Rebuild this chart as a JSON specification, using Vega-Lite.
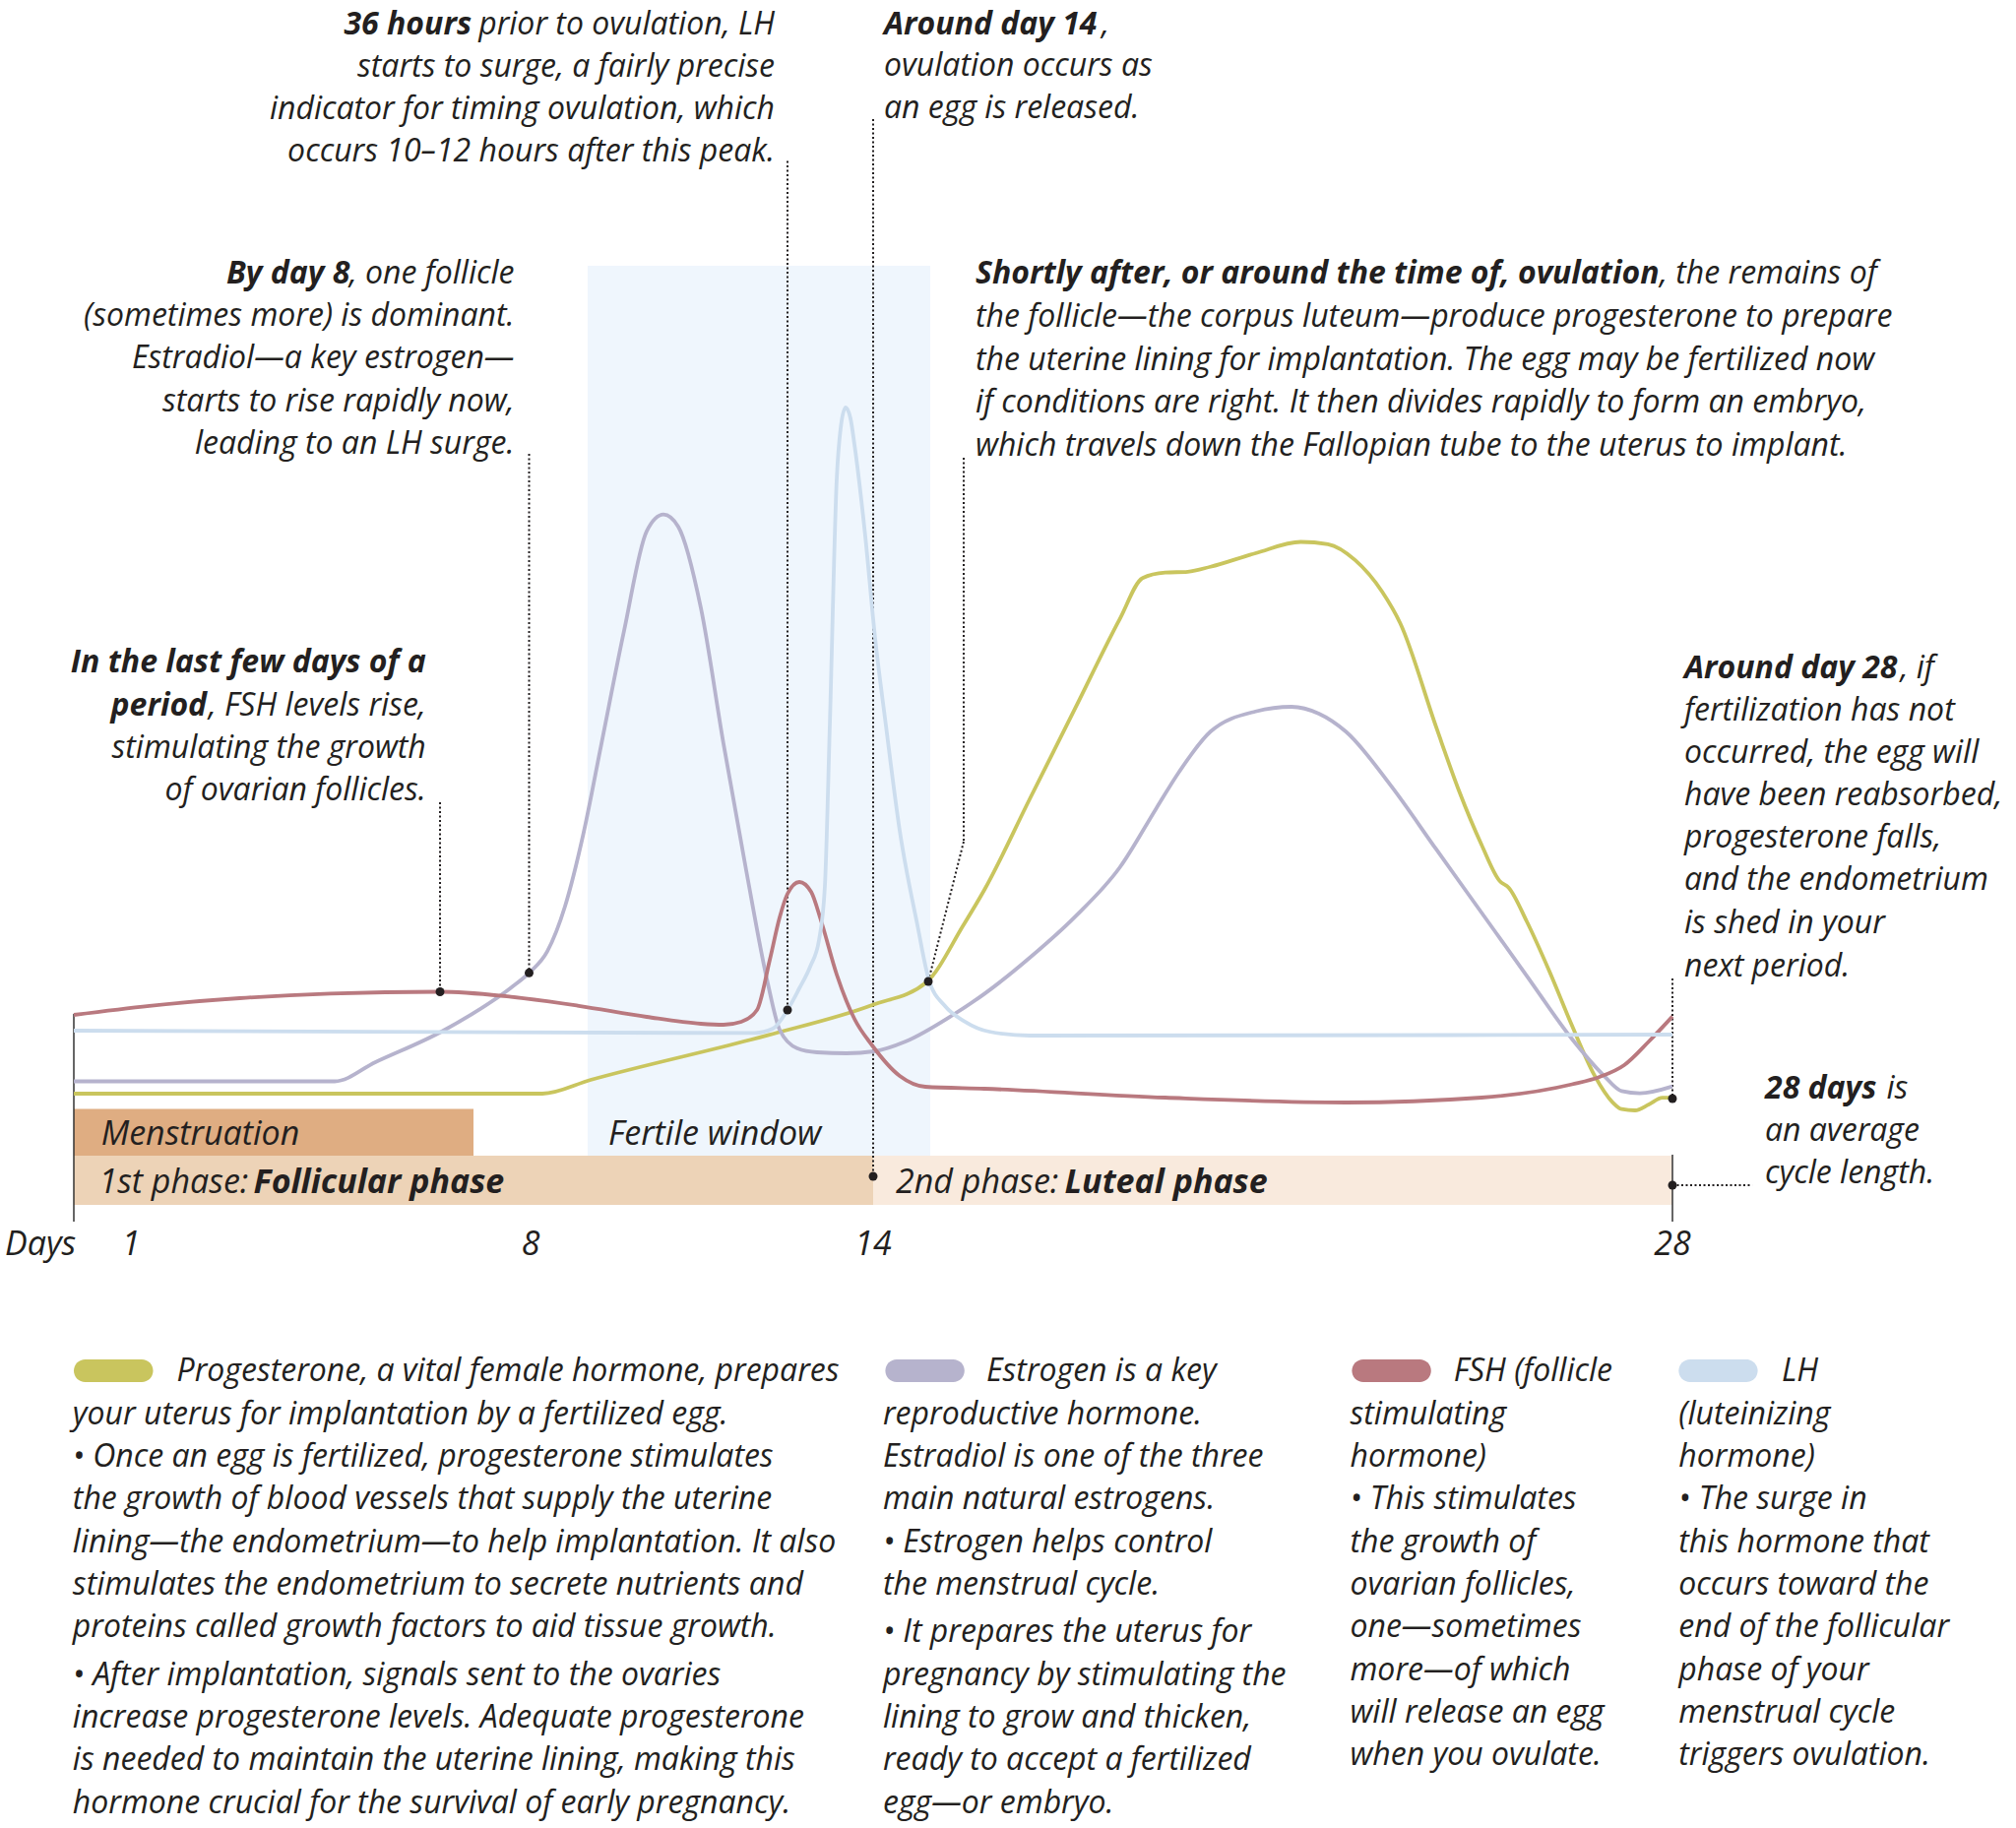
{
  "$schema": "https://vega.github.io/schema/vega-lite/v6.json",
  "width": 2048,
  "height": 1857,
  "autosize": {"type": "none"},
  "padding": 0,
  "background": "white",
  "config": {"view": {"stroke": null}},
  "encoding": {
    "x": {"field": "x", "type": "quantitative", "scale": {"domain": [-1.2931, 34.0172], "nice": false, "zero": false}, "axis": null},
    "y": {"field": "y", "type": "quantitative", "scale": {"domain": [-79.125, 153], "nice": false, "zero": false}, "axis": null}
  },
  "datasets": {
    "fertile": [{"x": 9, "x2": 15, "y": 6.25, "y2": 119.25}],
    "menses": [{"x": 0, "x2": 7, "y": 6.25, "y2": 12.19}],
    "follicular": [{"x": 0, "x2": 14, "y": 0, "y2": 6.25}],
    "luteal": [{"x": 14, "x2": 28, "y": 0, "y2": 6.25}],
    "axislines": [{"x": 0, "y": 24.25, "y2": -2.125}, {"x": 28, "y": 6.375, "y2": -2.125}],
    "ticks": [{"x": 1}, {"x": 2}, {"x": 3}, {"x": 4}, {"x": 5}, {"x": 6}, {"x": 7}, {"x": 8}, {"x": 9}, {"x": 10}, {"x": 11}, {"x": 12}, {"x": 13}, {"x": 14}, {"x": 15}, {"x": 16}, {"x": 17}, {"x": 18}, {"x": 19}, {"x": 20}, {"x": 21}, {"x": 22}, {"x": 23}, {"x": 24}, {"x": 25}, {"x": 26}, {"x": 27}],
    "leaders": [
      {"x": 6.414, "x2": 6.414, "y": 51.125, "y2": 27.06},
      {"x": 7.974, "x2": 7.974, "y": 95.375, "y2": 29.46},
      {"x": 12.5, "x2": 12.5, "y": 132.56, "y2": 24.75},
      {"x": 14, "x2": 14, "y": 137.875, "y2": 3.625},
      {"x": 15.586, "x2": 15.586, "y": 94.875, "y2": 46.125},
      {"x": 15.586, "x2": 14.966, "y": 46.125, "y2": 28.375},
      {"x": 28, "x2": 28, "y": 28.75, "y2": 13.5},
      {"x": 28, "x2": 29.397, "y": 2.5, "y2": 2.5}
    ],
    "dots": [
      {"x": 6.414, "y": 27.06}, {"x": 7.974, "y": 29.46}, {"x": 12.5, "y": 24.75},
      {"x": 14.966, "y": 28.375}, {"x": 14, "y": 3.625}, {"x": 28, "y": 13.5}, {"x": 28, "y": 2.5}
    ],
    "curves": [
      {"hormone": "Progesterone", "x": 0, "y": 14.125}, {"hormone": "Progesterone", "x": 8.207, "y": 14.125}, {"hormone": "Progesterone", "x": 9.052, "y": 15.875}, {"hormone": "Progesterone", "x": 12.155, "y": 21.55}, {"hormone": "Progesterone", "x": 13.983, "y": 25.375}, {"hormone": "Progesterone", "x": 14.931, "y": 28.25}, {"hormone": "Progesterone", "x": 15.579, "y": 35.5}, {"hormone": "Progesterone", "x": 15.948, "y": 40.0}, {"hormone": "Progesterone", "x": 16.74, "y": 51.5}, {"hormone": "Progesterone", "x": 17.531, "y": 62.95}, {"hormone": "Progesterone", "x": 18.322, "y": 74.425}, {"hormone": "Progesterone", "x": 18.719, "y": 79.6}, {"hormone": "Progesterone", "x": 19.116, "y": 80.29}, {"hormone": "Progesterone", "x": 19.51, "y": 80.4}, {"hormone": "Progesterone", "x": 19.907, "y": 81.03}, {"hormone": "Progesterone", "x": 20.698, "y": 82.75}, {"hormone": "Progesterone", "x": 21.49, "y": 84.19}, {"hormone": "Progesterone", "x": 21.966, "y": 83.9}, {"hormone": "Progesterone", "x": 22.44, "y": 81.89}, {"hormone": "Progesterone", "x": 22.914, "y": 77.875}, {"hormone": "Progesterone", "x": 23.231, "y": 73.875}, {"hormone": "Progesterone", "x": 23.862, "y": 60.66}, {"hormone": "Progesterone", "x": 24.259, "y": 52.625}, {"hormone": "Progesterone", "x": 24.655, "y": 45.75}, {"hormone": "Progesterone", "x": 24.972, "y": 41.14}, {"hormone": "Progesterone", "x": 25.131, "y": 40.29}, {"hormone": "Progesterone", "x": 25.448, "y": 36.0}, {"hormone": "Progesterone", "x": 25.845, "y": 29.66}, {"hormone": "Progesterone", "x": 26.24, "y": 22.775}, {"hormone": "Progesterone", "x": 26.634, "y": 16.46}, {"hormone": "Progesterone", "x": 26.952, "y": 13.025}, {"hormone": "Progesterone", "x": 27.11, "y": 12.16}, {"hormone": "Progesterone", "x": 27.345, "y": 12.0}, {"hormone": "Progesterone", "x": 27.586, "y": 12.75}, {"hormone": "Progesterone", "x": 27.822, "y": 13.6}, {"hormone": "Progesterone", "x": 28, "y": 13.6},
      {"hormone": "Estrogen", "x": 0, "y": 15.69}, {"hormone": "Estrogen", "x": 4.569, "y": 15.69}, {"hormone": "Estrogen", "x": 5.283, "y": 18.125}, {"hormone": "Estrogen", "x": 6.471, "y": 22.125}, {"hormone": "Estrogen", "x": 7.655, "y": 27.575}, {"hormone": "Estrogen", "x": 7.974, "y": 29.46}, {"hormone": "Estrogen", "x": 8.291, "y": 32.16}, {"hormone": "Estrogen", "x": 8.603, "y": 37.9}, {"hormone": "Estrogen", "x": 8.924, "y": 47.09}, {"hormone": "Estrogen", "x": 9.241, "y": 58.56}, {"hormone": "Estrogen", "x": 9.638, "y": 72.91}, {"hormone": "Estrogen", "x": 10.034, "y": 85.54}, {"hormone": "Estrogen", "x": 10.328, "y": 87.66}, {"hormone": "Estrogen", "x": 10.586, "y": 86.125}, {"hormone": "Estrogen", "x": 10.983, "y": 75.79}, {"hormone": "Estrogen", "x": 11.379, "y": 58.56}, {"hormone": "Estrogen", "x": 11.776, "y": 42.5}, {"hormone": "Estrogen", "x": 12.155, "y": 28.125}, {"hormone": "Estrogen", "x": 12.362, "y": 22.25}, {"hormone": "Estrogen", "x": 12.672, "y": 19.875}, {"hormone": "Estrogen", "x": 13.017, "y": 19.375}, {"hormone": "Estrogen", "x": 13.534, "y": 19.25}, {"hormone": "Estrogen", "x": 14.017, "y": 19.5}, {"hormone": "Estrogen", "x": 14.569, "y": 20.75}, {"hormone": "Estrogen", "x": 15.371, "y": 24.0}, {"hormone": "Estrogen", "x": 15.948, "y": 26.8}, {"hormone": "Estrogen", "x": 16.741, "y": 31.375}, {"hormone": "Estrogen", "x": 17.531, "y": 36.55}, {"hormone": "Estrogen", "x": 18.322, "y": 42.875}, {"hormone": "Estrogen", "x": 18.957, "y": 50.325}, {"hormone": "Estrogen", "x": 19.352, "y": 54.91}, {"hormone": "Estrogen", "x": 19.907, "y": 60.09}, {"hormone": "Estrogen", "x": 20.698, "y": 62.66}, {"hormone": "Estrogen", "x": 21.328, "y": 63.25}, {"hormone": "Estrogen", "x": 21.807, "y": 62.375}, {"hormone": "Estrogen", "x": 22.281, "y": 60.09}, {"hormone": "Estrogen", "x": 23.072, "y": 53.2}, {"hormone": "Estrogen", "x": 23.862, "y": 45.16}, {"hormone": "Estrogen", "x": 24.655, "y": 37.125}, {"hormone": "Estrogen", "x": 25.448, "y": 29.09}, {"hormone": "Estrogen", "x": 26.241, "y": 21.06}, {"hormone": "Estrogen", "x": 26.793, "y": 16.46}, {"hormone": "Estrogen", "x": 27.11, "y": 14.45}, {"hormone": "Estrogen", "x": 27.428, "y": 14.175}, {"hormone": "Estrogen", "x": 28, "y": 15.04},
      {"hormone": "FSH", "x": 0, "y": 24.125}, {"hormone": "FSH", "x": 1.324, "y": 25.275}, {"hormone": "FSH", "x": 2.907, "y": 26.25}, {"hormone": "FSH", "x": 4.491, "y": 26.825}, {"hormone": "FSH", "x": 6.414, "y": 27.06}, {"hormone": "FSH", "x": 7.655, "y": 26.425}, {"hormone": "FSH", "x": 8.845, "y": 25.275}, {"hormone": "FSH", "x": 10.034, "y": 23.875}, {"hormone": "FSH", "x": 10.983, "y": 23.0}, {"hormone": "FSH", "x": 11.379, "y": 22.875}, {"hormone": "FSH", "x": 11.69, "y": 23.25}, {"hormone": "FSH", "x": 11.966, "y": 24.75}, {"hormone": "FSH", "x": 12.19, "y": 31.125}, {"hormone": "FSH", "x": 12.362, "y": 36.5}, {"hormone": "FSH", "x": 12.5, "y": 39.5}, {"hormone": "FSH", "x": 12.707, "y": 41.0}, {"hormone": "FSH", "x": 12.914, "y": 39.75}, {"hormone": "FSH", "x": 13.086, "y": 36.125}, {"hormone": "FSH", "x": 13.362, "y": 29.25}, {"hormone": "FSH", "x": 13.672, "y": 23.625}, {"hormone": "FSH", "x": 13.983, "y": 20.25}, {"hormone": "FSH", "x": 14.466, "y": 16.375}, {"hormone": "FSH", "x": 14.914, "y": 15.0}, {"hormone": "FSH", "x": 15.948, "y": 14.75}, {"hormone": "FSH", "x": 19.116, "y": 13.625}, {"hormone": "FSH", "x": 22.276, "y": 13.0}, {"hormone": "FSH", "x": 24.655, "y": 13.625}, {"hormone": "FSH", "x": 26.241, "y": 15.31}, {"hormone": "FSH", "x": 26.724, "y": 16.25}, {"hormone": "FSH", "x": 27.155, "y": 17.75}, {"hormone": "FSH", "x": 27.586, "y": 20.75}, {"hormone": "FSH", "x": 28, "y": 23.925},
      {"hormone": "LH", "x": 0, "y": 22.125}, {"hormone": "LH", "x": 11.931, "y": 21.84}, {"hormone": "LH", "x": 12.241, "y": 22.375}, {"hormone": "LH", "x": 12.5, "y": 24.75}, {"hormone": "LH", "x": 12.707, "y": 27.5}, {"hormone": "LH", "x": 12.897, "y": 30.25}, {"hormone": "LH", "x": 13.052, "y": 33.625}, {"hormone": "LH", "x": 13.155, "y": 40.5}, {"hormone": "LH", "x": 13.241, "y": 60.875}, {"hormone": "LH", "x": 13.362, "y": 92.125}, {"hormone": "LH", "x": 13.431, "y": 98.625}, {"hormone": "LH", "x": 13.517, "y": 101.25}, {"hormone": "LH", "x": 13.603, "y": 99.875}, {"hormone": "LH", "x": 13.672, "y": 96.6}, {"hormone": "LH", "x": 13.855, "y": 85.41}, {"hormone": "LH", "x": 14.034, "y": 72.0}, {"hormone": "LH", "x": 14.224, "y": 60.875}, {"hormone": "LH", "x": 14.466, "y": 47.5}, {"hormone": "LH", "x": 14.776, "y": 35.5}, {"hormone": "LH", "x": 14.979, "y": 28.5}, {"hormone": "LH", "x": 15.259, "y": 25.25}, {"hormone": "LH", "x": 15.6, "y": 23.31}, {"hormone": "LH", "x": 16.034, "y": 22.0}, {"hormone": "LH", "x": 16.741, "y": 21.5}, {"hormone": "LH", "x": 28, "y": 21.625}
    ],
    "swatches": [
      {"hormone": "Progesterone", "x": 0, "x2": 1.388, "y": -19.625, "y2": -22.5},
      {"hormone": "Estrogen", "x": 14.214, "x2": 15.6, "y": -19.625, "y2": -22.5},
      {"hormone": "FSH", "x": 22.386, "x2": 23.772, "y": -19.625, "y2": -22.5},
      {"hormone": "LH", "x": 28.109, "x2": 29.493, "y": -19.625, "y2": -22.5}
    ],
    "annot_rn": [
      {"x": 12.276, "y": 148.625, "text": "prior to ovulation, LH"},
      {"x": 12.276, "y": 143.275, "text": "starts to surge, a fairly precise"},
      {"x": 12.276, "y": 137.9125, "text": "indicator for timing ovulation, which"},
      {"x": 12.276, "y": 132.5625, "text": "occurs 10–12 hours after this peak."},
      {"x": 7.716, "y": 117.0, "text": ", one follicle"},
      {"x": 7.716, "y": 111.625, "text": "(sometimes more) is dominant."},
      {"x": 7.716, "y": 106.19, "text": "Estradiol—a key estrogen—"},
      {"x": 7.716, "y": 100.75, "text": "starts to rise rapidly now,"},
      {"x": 7.716, "y": 95.375, "text": "leading to an LH surge."},
      {"x": 6.169, "y": 62.175, "text": ", FSH levels rise,"},
      {"x": 6.169, "y": 56.75, "text": "stimulating the growth"},
      {"x": 6.169, "y": 51.375, "text": "of ovarian follicles."}
    ],
    "annot_rb": [
      {"x": 6.966, "y": 148.625, "text": "36 hours"},
      {"x": 4.833, "y": 117.0, "text": "By day 8"},
      {"x": 6.169, "y": 67.575, "text": "In the last few days of a"},
      {"x": 2.33, "y": 62.175, "text": "period"}
    ],
    "annot_ln": [
      {"x": 18.0, "y": 148.625, "text": ","},
      {"x": 14.19, "y": 143.375, "text": "ovulation occurs as"},
      {"x": 14.19, "y": 138.0, "text": "an egg is released."},
      {"x": 27.776, "y": 116.94, "text": ", the remains of"},
      {"x": 15.793, "y": 111.5, "text": "the follicle—the corpus luteum—produce progesterone to prepare"},
      {"x": 15.793, "y": 106.06, "text": "the uterine lining for implantation. The egg may be fertilized now"},
      {"x": 15.793, "y": 100.59, "text": "if conditions are right. It then divides rapidly to form an embryo,"},
      {"x": 15.793, "y": 95.125, "text": "which travels down the Fallopian tube to the uterus to implant."},
      {"x": 31.99, "y": 66.925, "text": ", if"},
      {"x": 28.207, "y": 61.5, "text": "fertilization has not"},
      {"x": 28.207, "y": 56.125, "text": "occurred, the egg will"},
      {"x": 28.207, "y": 50.69, "text": "have been reabsorbed,"},
      {"x": 28.207, "y": 45.375, "text": "progesterone falls,"},
      {"x": 28.207, "y": 40.0, "text": "and the endometrium"},
      {"x": 28.207, "y": 34.5, "text": "is shed in your"},
      {"x": 28.207, "y": 29.05, "text": "next period."},
      {"x": 31.75, "y": 13.44, "text": "is"},
      {"x": 29.621, "y": 8.125, "text": "an average"},
      {"x": 29.621, "y": 2.75, "text": "cycle length."}
    ],
    "annot_lb": [
      {"x": 14.19, "y": 148.625, "text": "Around day 14"},
      {"x": 15.793, "y": 116.94, "text": "Shortly after, or around the time of, ovulation"},
      {"x": 28.207, "y": 66.925, "text": "Around day 28"},
      {"x": 29.621, "y": 13.44, "text": "28 days"}
    ],
    "bar_n": [
      {"x": 0.478, "y": 7.625, "text": "Menstruation"},
      {"x": 9.362, "y": 7.625, "text": "Fertile window"},
      {"x": 0.438, "y": 1.5625, "text": "1st phase:"},
      {"x": 14.397, "y": 1.5625, "text": "2nd phase:"}
    ],
    "bar_b": [
      {"x": 3.148, "y": 1.5625, "text": "Follicular phase"},
      {"x": 17.353, "y": 1.5625, "text": "Luteal phase"}
    ],
    "ticklabels": [
      {"x": 1, "y": -6.375, "text": "1"},
      {"x": 8, "y": -6.375, "text": "8"},
      {"x": 14, "y": -6.375, "text": "14"},
      {"x": 28, "y": -6.375, "text": "28"}
    ],
    "dayslabel": [{"x": -1.207, "y": -6.375, "text": "Days"}],
    "legend_text": [
      {"x": 1.803, "y": -22.41, "text": "Progesterone, a vital female hormone, prepares"},
      {"x": -0.02, "y": -27.84, "text": "your uterus for implantation by a fertilized egg."},
      {"x": -0.02, "y": -33.25, "text": "• Once an egg is fertilized, progesterone stimulates"},
      {"x": -0.02, "y": -38.66, "text": "the growth of blood vessels that supply the uterine"},
      {"x": -0.02, "y": -44.09, "text": "lining—the endometrium—to help implantation. It also"},
      {"x": -0.02, "y": -49.5, "text": "stimulates the endometrium to secrete nutrients and"},
      {"x": -0.02, "y": -54.91, "text": "proteins called growth factors to aid tissue growth."},
      {"x": -0.02, "y": -60.96, "text": "• After implantation, signals sent to the ovaries"},
      {"x": -0.02, "y": -66.375, "text": "increase progesterone levels. Adequate progesterone"},
      {"x": -0.02, "y": -71.79, "text": "is needed to maintain the uterine lining, making this"},
      {"x": -0.02, "y": -77.21, "text": "hormone crucial for the survival of early pregnancy."},
      {"x": 15.983, "y": -22.41, "text": "Estrogen is a key"},
      {"x": 14.172, "y": -27.84, "text": "reproductive hormone."},
      {"x": 14.172, "y": -33.25, "text": "Estradiol is one of the three"},
      {"x": 14.172, "y": -38.66, "text": "main natural estrogens."},
      {"x": 14.172, "y": -44.09, "text": "• Estrogen helps control"},
      {"x": 14.172, "y": -49.5, "text": "the menstrual cycle."},
      {"x": 14.172, "y": -55.55, "text": "• It prepares the uterus for"},
      {"x": 14.172, "y": -60.96, "text": "pregnancy by stimulating the"},
      {"x": 14.172, "y": -66.375, "text": "lining to grow and thicken,"},
      {"x": 14.172, "y": -71.79, "text": "ready to accept a fertilized"},
      {"x": 14.172, "y": -77.21, "text": "egg—or embryo."},
      {"x": 24.166, "y": -22.41, "text": "FSH (follicle"},
      {"x": 22.353, "y": -27.84, "text": "stimulating"},
      {"x": 22.353, "y": -33.25, "text": "hormone)"},
      {"x": 22.353, "y": -38.66, "text": "• This stimulates"},
      {"x": 22.353, "y": -44.09, "text": "the growth of"},
      {"x": 22.353, "y": -49.5, "text": "ovarian follicles,"},
      {"x": 22.353, "y": -54.91, "text": "one—sometimes"},
      {"x": 22.353, "y": -60.34, "text": "more—of which"},
      {"x": 22.353, "y": -65.75, "text": "will release an egg"},
      {"x": 22.353, "y": -71.16, "text": "when you ovulate."},
      {"x": 29.914, "y": -22.41, "text": "LH"},
      {"x": 28.109, "y": -27.84, "text": "(luteinizing"},
      {"x": 28.109, "y": -33.25, "text": "hormone)"},
      {"x": 28.109, "y": -38.66, "text": "• The surge in"},
      {"x": 28.109, "y": -44.09, "text": "this hormone that"},
      {"x": 28.109, "y": -49.5, "text": "occurs toward the"},
      {"x": 28.109, "y": -54.91, "text": "end of the follicular"},
      {"x": 28.109, "y": -60.34, "text": "phase of your"},
      {"x": 28.109, "y": -65.75, "text": "menstrual cycle"},
      {"x": 28.109, "y": -71.16, "text": "triggers ovulation."}
    ]
  },
  "layer": [
    {"data": {"name": "fertile"}, "mark": {"type": "rect", "color": "#EFF6FD"}, "encoding": {"x2": {"field": "x2"}, "y2": {"field": "y2"}}},
    {"data": {"name": "menses"}, "mark": {"type": "rect", "color": "#DFAD82"}, "encoding": {"x2": {"field": "x2"}, "y2": {"field": "y2"}}},
    {"data": {"name": "follicular"}, "mark": {"type": "rect", "color": "#EDD3B7"}, "encoding": {"x2": {"field": "x2"}, "y2": {"field": "y2"}}},
    {"data": {"name": "luteal"}, "mark": {"type": "rect", "color": "#F9EADD"}, "encoding": {"x2": {"field": "x2"}, "y2": {"field": "y2"}}},
    {"data": {"name": "axislines"}, "mark": {"type": "rule", "color": "#333333", "strokeWidth": 1.5}, "encoding": {"y2": {"field": "y2"}}},
    {"data": {"name": "ticks"}, "mark": {"type": "rule", "color": "#333333", "strokeWidth": 1.5}, "encoding": {"y": {"datum": 0, "type": "quantitative"}, "y2": {"datum": -2.125}}},
    {"data": {"name": "leaders"}, "mark": {"type": "rule", "color": "#231F20", "strokeWidth": 2, "strokeDash": [2, 2.5]}, "encoding": {"x2": {"field": "x2"}, "y2": {"field": "y2"}}},
    {"data": {"name": "curves"}, "transform": [{"filter": "datum.hormone == 'Progesterone'"}], "mark": {"type": "line", "interpolate": "monotone", "strokeWidth": 3.8}, "encoding": {"color": {"field": "hormone", "type": "nominal", "scale": {"domain": ["Progesterone", "Estrogen", "FSH", "LH"], "range": ["#C9C55E", "#B6B3CD", "#B9797F", "#CCDDEE"]}, "legend": null}}},
    {"data": {"name": "curves"}, "transform": [{"filter": "datum.hormone == 'Estrogen'"}], "mark": {"type": "line", "interpolate": "monotone", "strokeWidth": 3.8}, "encoding": {"color": {"field": "hormone", "type": "nominal", "legend": null}}},
    {"data": {"name": "curves"}, "transform": [{"filter": "datum.hormone == 'FSH'"}], "mark": {"type": "line", "interpolate": "monotone", "strokeWidth": 3.8}, "encoding": {"color": {"field": "hormone", "type": "nominal", "legend": null}}},
    {"data": {"name": "curves"}, "transform": [{"filter": "datum.hormone == 'LH'"}], "mark": {"type": "line", "interpolate": "monotone", "strokeWidth": 3.8}, "encoding": {"color": {"field": "hormone", "type": "nominal", "legend": null}}},
    {"data": {"name": "dots"}, "mark": {"type": "circle", "color": "#231F20", "opacity": 1, "size": 80}},
    {"data": {"name": "swatches"}, "mark": {"type": "rect", "cornerRadius": 11.5}, "encoding": {"x2": {"field": "x2"}, "y2": {"field": "y2"}, "color": {"field": "hormone", "type": "nominal", "legend": null}}},
    {"data": {"name": "annot_rn"}, "mark": {"type": "text", "align": "right", "baseline": "alphabetic", "font": "Open Sans", "fontStyle": "italic", "fontSize": 32, "color": "#231F20"}, "encoding": {"text": {"field": "text"}}},
    {"data": {"name": "annot_rb"}, "mark": {"type": "text", "align": "right", "baseline": "alphabetic", "font": "Open Sans", "fontStyle": "italic", "fontWeight": "bold", "fontSize": 32, "color": "#231F20"}, "encoding": {"text": {"field": "text"}}},
    {"data": {"name": "annot_ln"}, "mark": {"type": "text", "align": "left", "baseline": "alphabetic", "font": "Open Sans", "fontStyle": "italic", "fontSize": 32, "color": "#231F20"}, "encoding": {"text": {"field": "text"}}},
    {"data": {"name": "annot_lb"}, "mark": {"type": "text", "align": "left", "baseline": "alphabetic", "font": "Open Sans", "fontStyle": "italic", "fontWeight": "bold", "fontSize": 32, "color": "#231F20"}, "encoding": {"text": {"field": "text"}}},
    {"data": {"name": "legend_text"}, "mark": {"type": "text", "align": "left", "baseline": "alphabetic", "font": "Open Sans", "fontStyle": "italic", "fontSize": 32, "color": "#231F20"}, "encoding": {"text": {"field": "text"}}},
    {"data": {"name": "bar_n"}, "mark": {"type": "text", "align": "left", "baseline": "alphabetic", "font": "Open Sans", "fontStyle": "italic", "fontSize": 34, "color": "#231F20"}, "encoding": {"text": {"field": "text"}}},
    {"data": {"name": "bar_b"}, "mark": {"type": "text", "align": "left", "baseline": "alphabetic", "font": "Open Sans", "fontStyle": "italic", "fontWeight": "bold", "fontSize": 34, "color": "#231F20"}, "encoding": {"text": {"field": "text"}}},
    {"data": {"name": "ticklabels"}, "mark": {"type": "text", "align": "center", "baseline": "alphabetic", "font": "Open Sans", "fontStyle": "italic", "fontSize": 34, "color": "#231F20"}, "encoding": {"text": {"field": "text"}}},
    {"data": {"name": "dayslabel"}, "mark": {"type": "text", "align": "left", "baseline": "alphabetic", "font": "Open Sans", "fontStyle": "italic", "fontSize": 34, "color": "#231F20"}, "encoding": {"text": {"field": "text"}}}
  ]
}
